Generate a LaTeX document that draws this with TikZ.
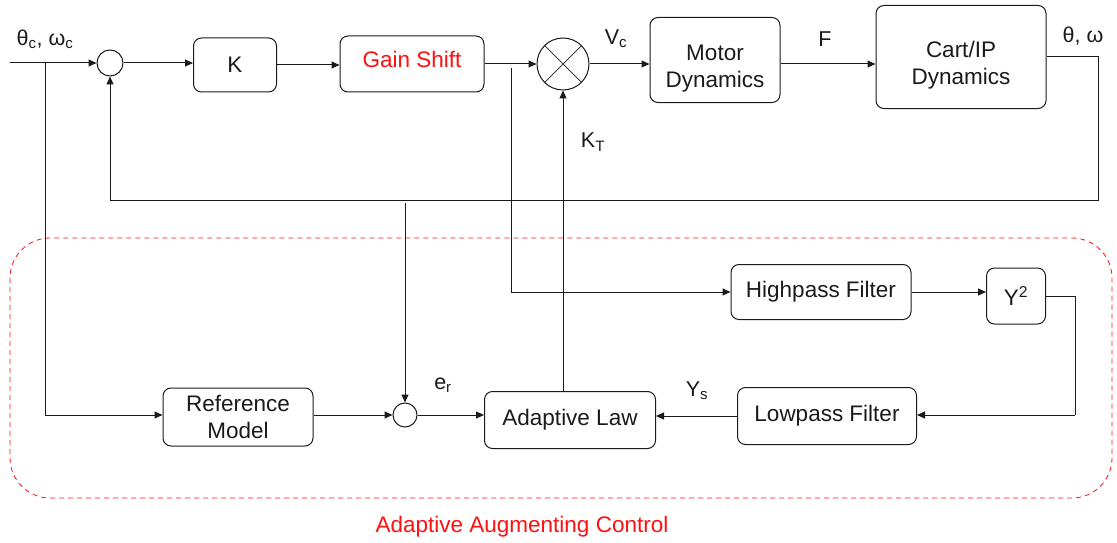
\documentclass[tikz,border=0pt]{standalone}
\usepackage{fontspec}
\setmainfont{Liberation Sans}
\usetikzlibrary{arrows.meta,positioning,calc}
\definecolor{Ink}{HTML}{1A1A1A}
\definecolor{Alarm}{HTML}{FF1010}

\begin{document}
\begin{tikzpicture}[x=1pt,y=-1pt,
    every node/.style={font=\fontsize{22.5}{27}\selectfont,text=Ink},
    blk/.style={draw=Ink,line width=1pt,rounded corners=8pt,align=center,inner sep=0pt},
    junc/.style={draw=Ink,line width=1pt,circle,inner sep=0pt},
    lbl/.style={font=\fontsize{21.5}{26}\selectfont},
    arr/.style={draw=Ink,line width=1pt,-{Triangle[length=8pt,width=7pt]}},
    ln/.style={draw=Ink,line width=1pt}
  ]
  \useasboundingbox (0,0) rectangle (1117,543);
  % forward path
  \node[junc,minimum size=26] (sum1) at (110,63) {};
  \node[blk,minimum width=83,minimum height=54] (gainK) at (235,65) {K};
  \node[blk,minimum width=144,minimum height=56,text=Alarm,text depth=10pt] (shift) at (412,64) {Gain Shift};
  \node[junc,minimum size=52] (mult) at (563,64) {};
  \draw[ln,line width=0.7pt] (mult.north west) -- (mult.south east)
    (mult.north east) -- (mult.south west);
  \node[blk,minimum width=130,minimum height=85,text height=60pt] (motor) at (715,60) {Motor\\Dynamics};
  \node[blk,minimum width=170,minimum height=103,text height=60pt] (cart) at (961,57) {Cart/IP\\Dynamics};
  % adaptive loop
  \node[blk,minimum width=180,minimum height=55] (hpf) at (821,292) {Highpass Filter};
  \node[blk,minimum width=59,minimum height=56] (ysq) at (1016,296) {Y\textsuperscript{2}};
  \node[blk,minimum width=179,minimum height=57] (lpf) at (827,416) {Lowpass Filter};
  \node[blk,minimum width=171,minimum height=57] (law) at (570,420) {Adaptive Law};
  \node[blk,minimum width=150,minimum height=58] (refm) at (238,417) {Reference\\Model};
  \node[junc,minimum size=24] (sum2) at (405,415) {};
  % branch points
  \coordinate (in) at (10,63);
  \coordinate (tapIn) at (45,63);
  \coordinate (fbR) at (1098,200);
  \coordinate (tapFb) at (405,203);
  \coordinate (tapGs) at (511,68);
  \coordinate (ysqR) at (1075,415);
  % connectors
  \draw[arr] (in) -- (sum1.west);
  \draw[arr] (sum1.east) -- (gainK.west |- sum1.east);
  \draw[arr] (gainK.east) -- (shift.west |- gainK.east);
  \draw[arr] (shift.east |- mult) -- (mult.west);
  \draw[arr] (mult.east) -- (motor.west |- mult.east);
  \draw[arr] (motor.east |- mult.east) -- (cart.west |- mult.east);
  \draw[arr] (cart.east) -| (fbR) -| (sum1.south);
  \draw[arr] (tapFb) -- (sum2.north);
  \draw[arr] (tapIn) |- (refm.west |- sum2);
  \draw[arr] (refm.east |- sum2) -- (sum2.west);
  \draw[arr] (sum2.east) -- (law.west |- sum2);
  \draw[arr] (tapGs) |- (hpf.west);
  \draw[arr] (hpf.east) -- (ysq.west |- hpf.east);
  \draw[ln] (ysq.east) -| (ysqR);
  \draw[arr] (ysqR) -- (lpf.east |- ysqR);
  \draw[arr] (lpf.west) -- (law.east |- lpf.west);
  \draw[arr] (mult |- law.north) -- (mult.south);
  % signal labels
  \node[lbl] (thc) at (45,39) {θ\textsubscript{c}, ω\textsubscript{c}};
  \node[lbl] (vc) at (616,39) {V\textsubscript{c}};
  \node[lbl] (force) at (825,39) {F};
  \node[lbl] (thw) at (1083,36) {θ, ω};
  \node[lbl] (kt) at (593,142) {K\textsubscript{T}};
  \node[lbl] (er) at (443,385) {e\textsubscript{r}};
  \node[lbl] (ys) at (697,391) {Y\textsubscript{s}};
  % augmenting region
  \draw[Alarm,line width=0.8pt,dash pattern=on 5pt off 4pt,rounded corners=40pt]
    (10,238) rectangle (1112,498);
  \node[lbl,text=Alarm,font=\fontsize{22.5}{26}\selectfont] (aac) at (522,527) {Adaptive Augmenting Control};
\end{tikzpicture}
\end{document}
